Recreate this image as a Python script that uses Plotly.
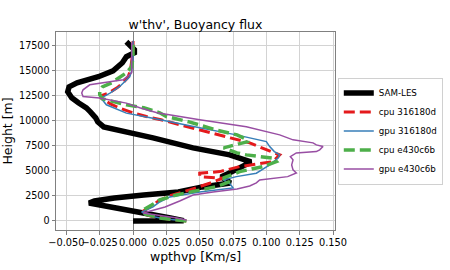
import plotly.graph_objects as go

# ---------------- data ----------------
z_les = [0, 30, 300, 600, 850, 1100, 1400, 1650, 1800, 2000, 2300, 2600, 2900, 3400, 3800,
         4100, 4400, 5100, 5900, 6600, 7300, 8300, 8800, 9100, 9400, 9900, 10300, 10900, 11300,
         11800, 12300, 12900, 13400, 13800, 14400, 15000, 15400, 15800, 16400, 16800, 17100,
         17500, 17900]
x_les = [0.0, 0.038, 0.028, 0.016, 0.007, -0.004, -0.019, -0.030, -0.033, -0.029, -0.014, 0.008,
         0.034, 0.052, 0.073, 0.07, 0.066, 0.077, 0.0885, 0.0725, 0.045, 0.015, 0.0, -0.012,
         -0.022, -0.0265, -0.028, -0.032, -0.035, -0.041, -0.046, -0.049, -0.048, -0.042, -0.026,
         -0.015, -0.011, -0.008, -0.005, 0.001, 0.001, -0.002, -0.005]

z_cpu1 = [0, 200, 500, 850, 1100, 1500, 2000, 2500, 3100, 3400, 3770, 4100, 4270, 4430, 4770,
          4930, 5430, 5930, 6600, 6800, 7430, 7800, 8300, 8900, 9500, 10100, 10430, 10800, 11270,
          11700, 12270, 12500, 12800, 13300, 13800, 14300, 15000, 15800, 17000, 18000]
x_cpu1 = [0.04, 0.026, 0.013, 0.006, 0.009, 0.014, 0.019, 0.027, 0.0425, 0.05, 0.0575, 0.064,
          0.0675, 0.05, 0.05, 0.065, 0.08, 0.105, 0.11, 0.106, 0.095, 0.0875, 0.073, 0.056, 0.039,
          0.021, 0.01, 0.0, -0.01, -0.017, -0.024, -0.024, -0.018, -0.012, -0.0075, -0.004, -0.002,
          -0.001, 0.0, 0.0]

z_gpu1 = [0, 200, 500, 900, 1400, 1900, 2400, 2900, 3300, 3770, 4100, 4430, 4770, 5600, 6300,
          6600, 6930, 7430, 7930, 8600, 9300, 9930, 10300, 10770, 11600, 12270, 12800, 13430,
          14400, 15000, 16000, 17000, 18000]
x_gpu1 = [0.04, 0.025, 0.012, 0.0065, 0.015, 0.02, 0.0275, 0.05, 0.075, 0.0725, 0.0675, 0.0775,
          0.0925, 0.1025, 0.109, 0.11, 0.106, 0.1025, 0.1, 0.0775, 0.05, 0.025, 0.013, -0.005,
          -0.02, -0.024, -0.017, -0.01, -0.0025, -0.001, 0.0, 0.0, 0.0]

z_cpu2 = [0, 300, 700, 1100, 1600, 2100, 2600, 3100, 3430, 3930, 4270, 4930, 5430, 5930, 6270,
          6600, 6800, 7300, 7930, 8100, 8600, 9100, 9900, 10430, 10800, 11300, 11600, 12200,
          12600, 13000, 13400, 13800, 14100, 14800, 15400, 16500, 18000]
x_cpu2 = [0.04, 0.02, 0.009, 0.0075, 0.014, 0.02, 0.0325, 0.05, 0.0625, 0.0725, 0.0675, 0.08,
          0.0975, 0.1075, 0.105, 0.085, 0.078, 0.068, 0.086, 0.086, 0.078, 0.062, 0.042, 0.025,
          0.02, 0.008, -0.005, -0.023, -0.025, -0.025, -0.023, -0.016, -0.013, -0.005, -0.001,
          0.0, 0.0]

z_gpu2 = [100, 300, 800, 1400, 2000, 2600, 2900, 3200, 3500, 3800, 4100, 4300, 4430, 4800, 5100,
          5600, 6100, 6430, 6800, 6930, 7100, 7430, 7600, 7800, 8100, 8600, 9400, 10100, 10800,
          11300, 11770, 12270, 12430, 12770, 13100, 13600, 14100, 14800, 16000, 17800]
x_gpu2 = [0.04, 0.033, 0.0075, 0.024, 0.035, 0.045, 0.06, 0.078, 0.0875, 0.0925, 0.095, 0.108,
          0.116, 0.1225, 0.12, 0.119, 0.12, 0.118, 0.1225, 0.1375, 0.14, 0.1425, 0.1375, 0.135,
          0.12, 0.11, 0.085, 0.05, 0.018, 0.005, -0.005, -0.025, -0.0375, -0.0385, -0.0375,
          -0.0325, -0.0075, -0.001, -0.001, -0.001]

x_ticks = [-0.050, -0.025, 0.000, 0.025, 0.050, 0.075, 0.100, 0.125, 0.150]
y_ticks = [0, 2500, 5000, 7500, 10000, 12500, 15000, 17500]

series = [
    ("SAM-LES", x_les, z_les, dict(color="black", width=5.5)),
    ("cpu 316180d", x_cpu1, z_cpu1, dict(color="#e41a1c", width=3, dash="11px,5px")),
    ("gpu 316180d", x_gpu1, z_gpu1, dict(color="#377eb8", width=1.5)),
    ("cpu e430c6b", x_cpu2, z_cpu2, dict(color="#4daf4a", width=3.5, dash="11px,5px")),
    ("gpu e430c6b", x_gpu2, z_gpu2, dict(color="#984ea3", width=1.5)),
]

FONT = "DejaVu Sans"
fig = go.Figure()
for name, xs, zs, line in series:
    fig.add_trace(go.Scatter(x=xs, y=zs, mode="lines", name=name, line=line))

fig.update_layout(
    width=450, height=270,
    margin=dict(l=56, r=115, t=32, b=40, autoexpand=False),
    paper_bgcolor="white", plot_bgcolor="white",
    font=dict(family=FONT, color="black"),
    title=dict(text="w'thv', Buoyancy flux", x=0.5, xref="paper", xanchor="center",
               y=1 - 25 / 270, yanchor="middle", font=dict(size=12.5, family=FONT)),
    legend=dict(x=1.01, xanchor="left", y=0.5, yanchor="middle",
                bordercolor="#d0d0d0", borderwidth=1, bgcolor="white",
                font=dict(size=8.7, family=FONT), itemwidth=30,
                tracegroupgap=0),
    showlegend=True,
)
fig.update_xaxes(
    range=[-0.0578, 0.1515], tickvals=x_ticks, tickformat=".3f", tickangle=0,
    automargin=False,
    showgrid=True, gridcolor="#d3d3d3", gridwidth=0.8,
    zeroline=True, zerolinecolor="#808080", zerolinewidth=1.2,
    showline=True, mirror=True, linecolor="#808080", linewidth=1,
    ticks="outside", ticklen=3.5, tickcolor="#808080",
    tickfont=dict(size=9.8, family=FONT),
    title=dict(text="wpthvp [Km/s]", font=dict(size=12.5, family=FONT), standoff=4),
)
fig.update_yaxes(
    range=[-900, 18870], tickvals=y_ticks, tickformat="d",
    automargin=False,
    showgrid=True, gridcolor="#d3d3d3", gridwidth=0.8,
    zeroline=False,
    showline=True, mirror=True, linecolor="#808080", linewidth=1,
    ticks="outside", ticklen=3.5, tickcolor="#808080",
    tickfont=dict(size=9.6, family=FONT),
    title=dict(text="Height [m]", font=dict(size=12.5, family=FONT), standoff=4),
)

fig.write_html("out.html")
